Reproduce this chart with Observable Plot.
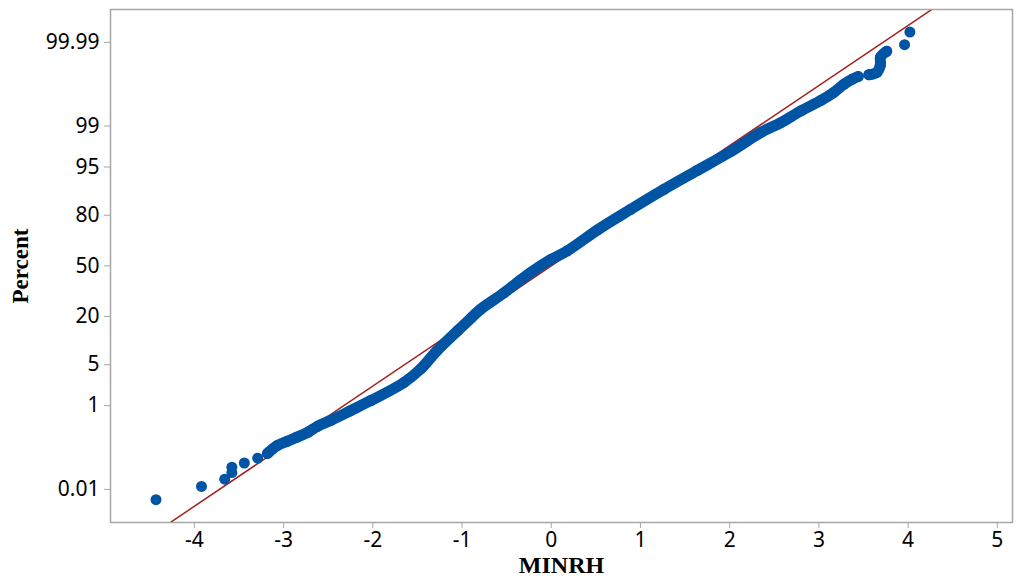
<!DOCTYPE html>
<html><head><meta charset="utf-8">
<script src="https://cdn.jsdelivr.net/npm/d3@7"></script>
<script src="https://cdn.jsdelivr.net/npm/@observablehq/plot@0.6"></script>
<style>body{margin:0;background:#fff;} #chart{width:1016px;height:583px;}</style>
</head><body><div id="chart"></div>
<script>
// MINRH values (standardized)
const minrh = [-4.43,-3.92,-3.66,-3.58,-3.58,-3.44,-3.29,-3.18,-3.07,-2.96,-2.85,-2.73,-2.62,-2.47,-2.25,-2.02,-1.65,-1.46,-1.28,-1.05,-0.90,-0.79,-0.53,-0.34,-0.23,-0.01,0.18,0.52,0.89,1.26,1.64,2.01,2.35,2.57,2.80,3.02,3.17,3.28,3.38,3.44,3.56,3.65,3.69,3.69,3.76,3.96,4.02];
// normal score (z) of the plotted percent
const score = [-3.89,-3.67,-3.55,-3.44,-3.35,-3.28,-3.20,-3.12,-2.99,-2.92,-2.85,-2.77,-2.67,-2.57,-2.41,-2.24,-1.94,-1.71,-1.41,-1.08,-0.87,-0.72,-0.45,-0.23,-0.11,0.10,0.25,0.60,0.94,1.27,1.59,1.90,2.22,2.38,2.58,2.75,2.89,3.02,3.11,3.15,3.18,3.22,3.35,3.47,3.57,3.68,3.89];
// which dense run a point belongs to (0 = isolated point)
const run = [0,0,0,0,0,0,0,1,1,1,1,1,1,1,1,1,1,1,1,1,1,1,1,1,1,1,1,1,1,1,1,1,1,1,1,1,1,1,1,1,2,2,2,2,2,0,0];
const pctTicks = [0.01,1,5,20,50,80,95,99,99.99];
const xTicks = [-4,-3,-2,-1,0,1,2,3,4,5];
const fitMean = 0, fitSd = 1;
const xDomain = [-4.94, 5.17];
const zDomain = [-4.27, 4.265];

function probit(p){
  const a=[-3.969683028665376e+01,2.209460984245205e+02,-2.759285104469687e+02,1.383577518672690e+02,-3.066479806614716e+01,2.506628277459239e+00];
  const b=[-5.447609879822406e+01,1.615858368580409e+02,-1.556989798598866e+02,6.680131188771972e+01,-1.328068155288572e+01];
  const c=[-7.784894002430293e-03,-3.223964580411365e-01,-2.400758277161838e+00,-2.549732539343734e+00,4.374664141464968e+00,2.938163982698783e+00];
  const d=[7.784695709041462e-03,3.224671290700398e-01,2.445134137142996e+00,3.754408661907416e+00];
  const pl=0.02425, ph=1-pl; let q,r;
  if(p<pl){q=Math.sqrt(-2*Math.log(p));return (((((c[0]*q+c[1])*q+c[2])*q+c[3])*q+c[4])*q+c[5])/((((d[0]*q+d[1])*q+d[2])*q+d[3])*q+1);}
  if(p<=ph){q=p-0.5;r=q*q;return (((((a[0]*r+a[1])*r+a[2])*r+a[3])*r+a[4])*r+a[5])*q/(((((b[0]*r+b[1])*r+b[2])*r+b[3])*r+b[4])*r+1);}
  q=Math.sqrt(-2*Math.log(1-p));return -(((((c[0]*q+c[1])*q+c[2])*q+c[3])*q+c[4])*q+c[5])/((((d[0]*q+d[1])*q+d[2])*q+d[3])*q+1);
}

const pts = minrh.map((x,i)=>({x, z: score[i], run: run[i]}));
const yTickZ = pctTicks.map(p=>probit(p/100));
const labelOf = new Map(yTickZ.map((z,i)=>[z, String(pctTicks[i])]));
const fit = xDomain.map(x=>({x, z:(x-fitMean)/fitSd}));
const blue = "#0054a4";
const tickFont = "'Noto Sans', 'Open Sans', sans-serif";
const titleFont = "'Liberation Serif', 'Times New Roman', serif";

const chart = Plot.plot({
  width: 1016, height: 583,
  marginLeft: 110, marginRight: 4, marginTop: 9, marginBottom: 61,
  style: {fontFamily: tickFont, fontSize: "21px", color: "#000", background: "#fff"},
  x: {domain: xDomain},
  y: {domain: zDomain},
  marks: [
    Plot.line(fit, {x:"x", y:"z", stroke:"#a31f1f", strokeWidth:1.5, clip:true}),
    Plot.line(pts.filter(d=>d.run>0), {x:"x", y:"z", z:"run", stroke: blue, strokeWidth: 11, strokeLinecap:"round", strokeLinejoin:"round", curve:"catmull-rom"}),
    Plot.dot(pts, {x:"x", y:"z", r:5.5, fill: blue, stroke:"none"}),
    Plot.frame({stroke:"#a6a6a6", strokeWidth:1.5}),
    Plot.axisX({ticks: xTicks, tickFormat: d=>String(d), tickSize: 6, tickPadding: 4, stroke:"#a6a6a6", fill:"#000", label:null, fontSize:21}),
    Plot.axisY({ticks: yTickZ, tickFormat: z=>labelOf.get(z), tickSize: 6, tickPadding: 5, stroke:"#a6a6a6", fill:"#000", label:null, fontSize:21}),
    Plot.text(["MINRH"], {frameAnchor:"bottom", dy:50, fontFamily:titleFont, fontWeight:"bold", fontSize:24, fill:"#000"}),
    Plot.text(["Percent"], {frameAnchor:"left", textAnchor:"middle", dx:-90, rotate:-90, fontFamily:titleFont, fontWeight:"bold", fontSize:23, fill:"#000"})
  ]
});
document.getElementById("chart").appendChild(chart);
</script>
</body></html>
